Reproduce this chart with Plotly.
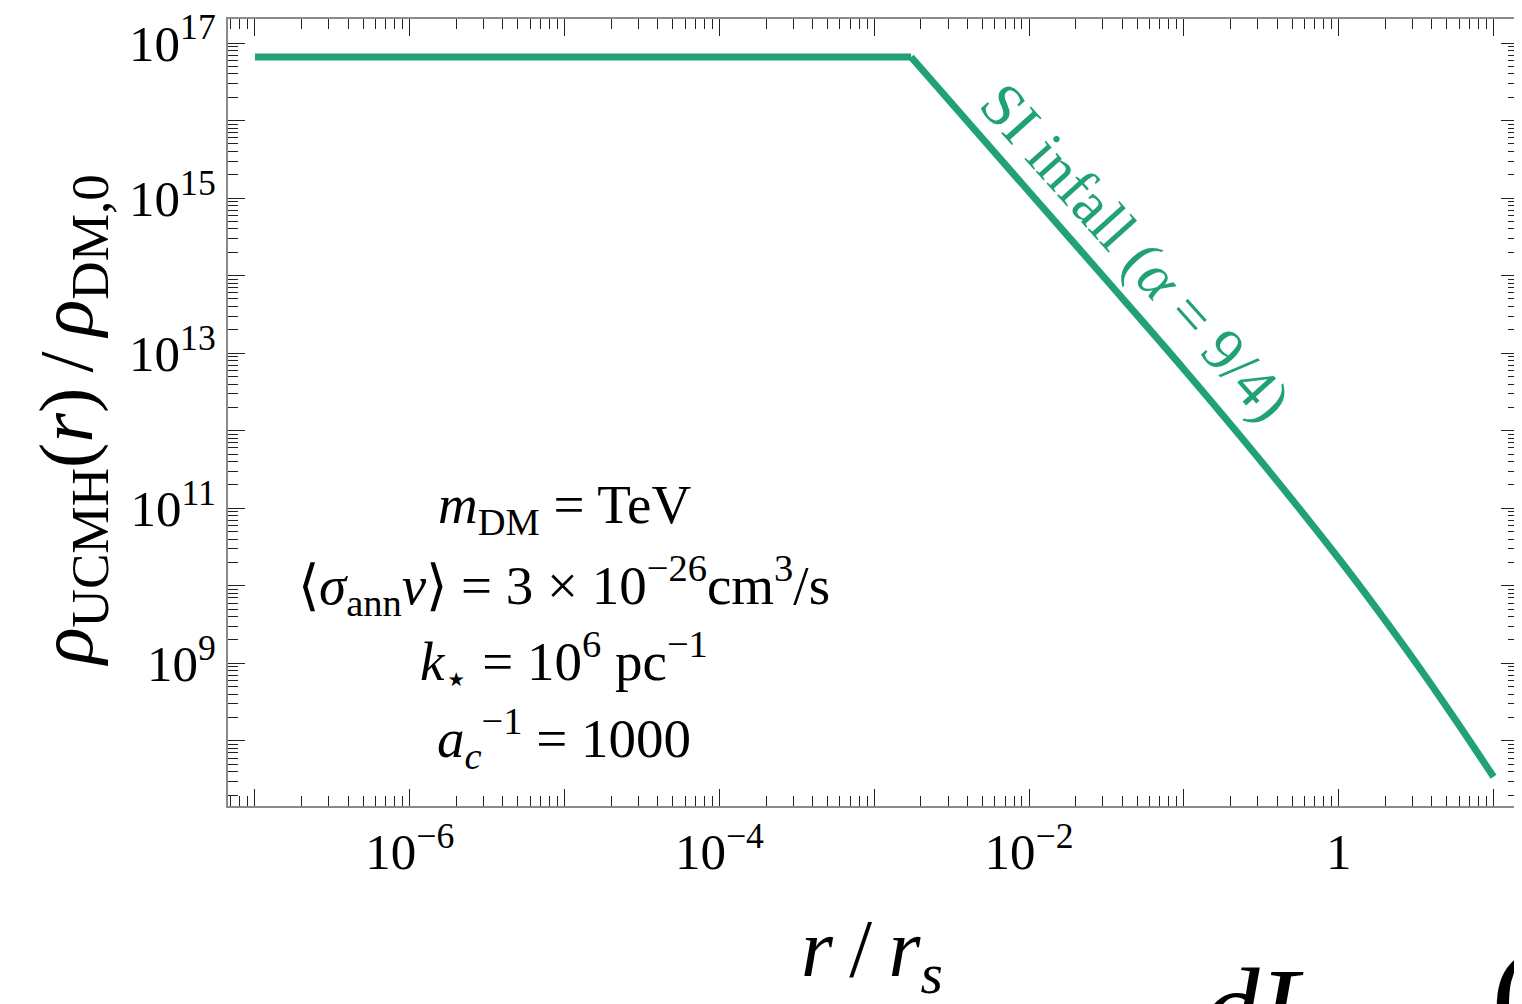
import plotly.graph_objects as go

# profile (r / r_s, rho_UCMH / rho_DM,0)
r_vals = [1e-7, 1.73e-3, 1e-2, 3.16e-2, 0.1, 0.316, 1.0, 1.78, 3.4, 5.6, 10.0]
rho_vals = [6.6e16, 6.6e16, 1.21e15, 8.77e13, 6.21e12, 4.01e11, 2.25e10, 4.9e9, 8.22e8, 1.94e8, 3.44e7]
BREAK = 1  # index where the flat core ends

x_major = [10.0 ** n for n in range(-7, 2)]
x_labels = ["", "10<sup>−6</sup>", "", "10<sup>−4</sup>", "", "10<sup>−2</sup>", "", "1", ""]
y_major = [10.0 ** n for n in range(8, 18)]
y_labels = ["", "10<sup>9</sup>", "", "10<sup>11</sup>", "", "10<sup>13</sup>", "",
            "10<sup>15</sup>", "", "10<sup>17</sup>"]

param_lines = [
    "<i>m</i><sub>DM</sub> = TeV",
    "⟨<i>σ</i><sub>ann</sub><i>v</i>⟩ = 3 × 10<sup>−26</sup>cm<sup>3</sup>/s",
    "<i>k</i><sub>⋆</sub> = 10<sup>6</sup> pc<sup>−1</sup>",
    "<i>a</i><sub><i>c</i></sub><sup>−1</sup> = 1000",
]

GREEN = "#21a177"
FONT = "Liberation Serif"

x_minor = [k * 10.0 ** n for n in range(-8, 2) for k in range(2, 10)]
y_minor = [k * 10.0 ** n for n in range(7, 18) for k in range(2, 10)]

fig = go.Figure()
# flat core
fig.add_trace(go.Scatter(
    x=r_vals[:BREAK + 1], y=rho_vals[:BREAK + 1],
    mode="lines",
    line=dict(color=GREEN, width=7),
    showlegend=False,
))
# infall tail (smooth)
fig.add_trace(go.Scatter(
    x=r_vals[BREAK:], y=rho_vals[BREAK:],
    mode="lines",
    line=dict(color=GREEN, width=7, shape="spline", smoothing=1.0),
    showlegend=False,
))

axis_common = dict(
    type="log",
    automargin=False,
    showgrid=False,
    zeroline=False,
    showline=True,
    linecolor="#8a8a8a",
    linewidth=2,
    mirror="ticks",
    ticks="inside",
    ticklen=17,
    tickwidth=1.3,
    tickcolor="#222222",
    ticklabeloverflow="allow",
    tickfont=dict(family=FONT, size=51, color="black"),
)

fig.update_xaxes(
    **axis_common,
    range=[-7.174, 1.158],
    tickmode="array",
    tickvals=x_major,
    ticktext=x_labels,
    minor=dict(tickvals=x_minor, ticks="inside", ticklen=10, tickwidth=1.3,
               tickcolor="#222222", showgrid=False),
)
fig.update_yaxes(
    **axis_common,
    range=[7.16, 17.31],
    tickmode="array",
    tickvals=y_major,
    ticktext=y_labels,
    minor=dict(tickvals=y_minor, ticks="inside", ticklen=10, tickwidth=1.3,
               tickcolor="#222222", showgrid=False),
)

# axis titles
fig.add_annotation(
    x=(72 - 228) / 1290, y=(806 - 420) / 787, xref="paper", yref="paper",
    text="<i>ρ</i><sub>UCMH</sub>(<i>r</i>)\u2009/\u2009<i>ρ</i><sub>DM,0</sub>",
    textangle=-90, showarrow=False,
    font=dict(family=FONT, size=76, color="black"),
    xanchor="center", yanchor="middle",
)
fig.add_annotation(
    x=(872 - 228) / 1290, y=(806 - 954) / 787, xref="paper", yref="paper",
    text="<i>r</i>\u2009/\u2009<i>r</i><sub><i>s</i></sub>",
    showarrow=False,
    font=dict(family=FONT, size=82, color="black"),
    xanchor="center", yanchor="middle",
)

# parameter block
for txt, sy in zip(param_lines, [508, 585, 661, 738]):
    fig.add_annotation(
        x=(564 - 228) / 1290, y=(806 - sy) / 787, xref="paper", yref="paper",
        text=txt, showarrow=False,
        font=dict(family=FONT, size=55, color="black"),
        xanchor="center", yanchor="middle",
    )

# curve label
fig.add_annotation(
    x=(1135 - 228) / 1290, y=(806 - 252) / 787, xref="paper", yref="paper",
    text="SI infall (<i>α</i> = 9/4)",
    textangle=48, showarrow=False,
    font=dict(family=FONT, size=61, color=GREEN),
    xanchor="center", yanchor="middle",
)

# clipped piece of the next panel's equation
fig.add_annotation(
    x=(1262 - 228) / 1290, y=(806 - 1008) / 787, xref="paper", yref="paper",
    text="<i>dL</i>", showarrow=False,
    font=dict(family=FONT, size=115, color="black"),
    xanchor="center", yanchor="middle",
)
fig.add_annotation(
    x=(1512 - 228) / 1290, y=(806 - 995) / 787, xref="paper", yref="paper",
    text="(", showarrow=False,
    font=dict(family=FONT, size=130, color="black"),
    xanchor="center", yanchor="middle",
)

# the page body has an 8px margin, so the figure is shifted back by that much
fig.update_layout(
    width=1514, height=996,
    margin=dict(l=220, r=4, t=11, b=198, autoexpand=False),
    plot_bgcolor="white",
    paper_bgcolor="white",
    showlegend=False,
)

fig.write_html("out.html")
